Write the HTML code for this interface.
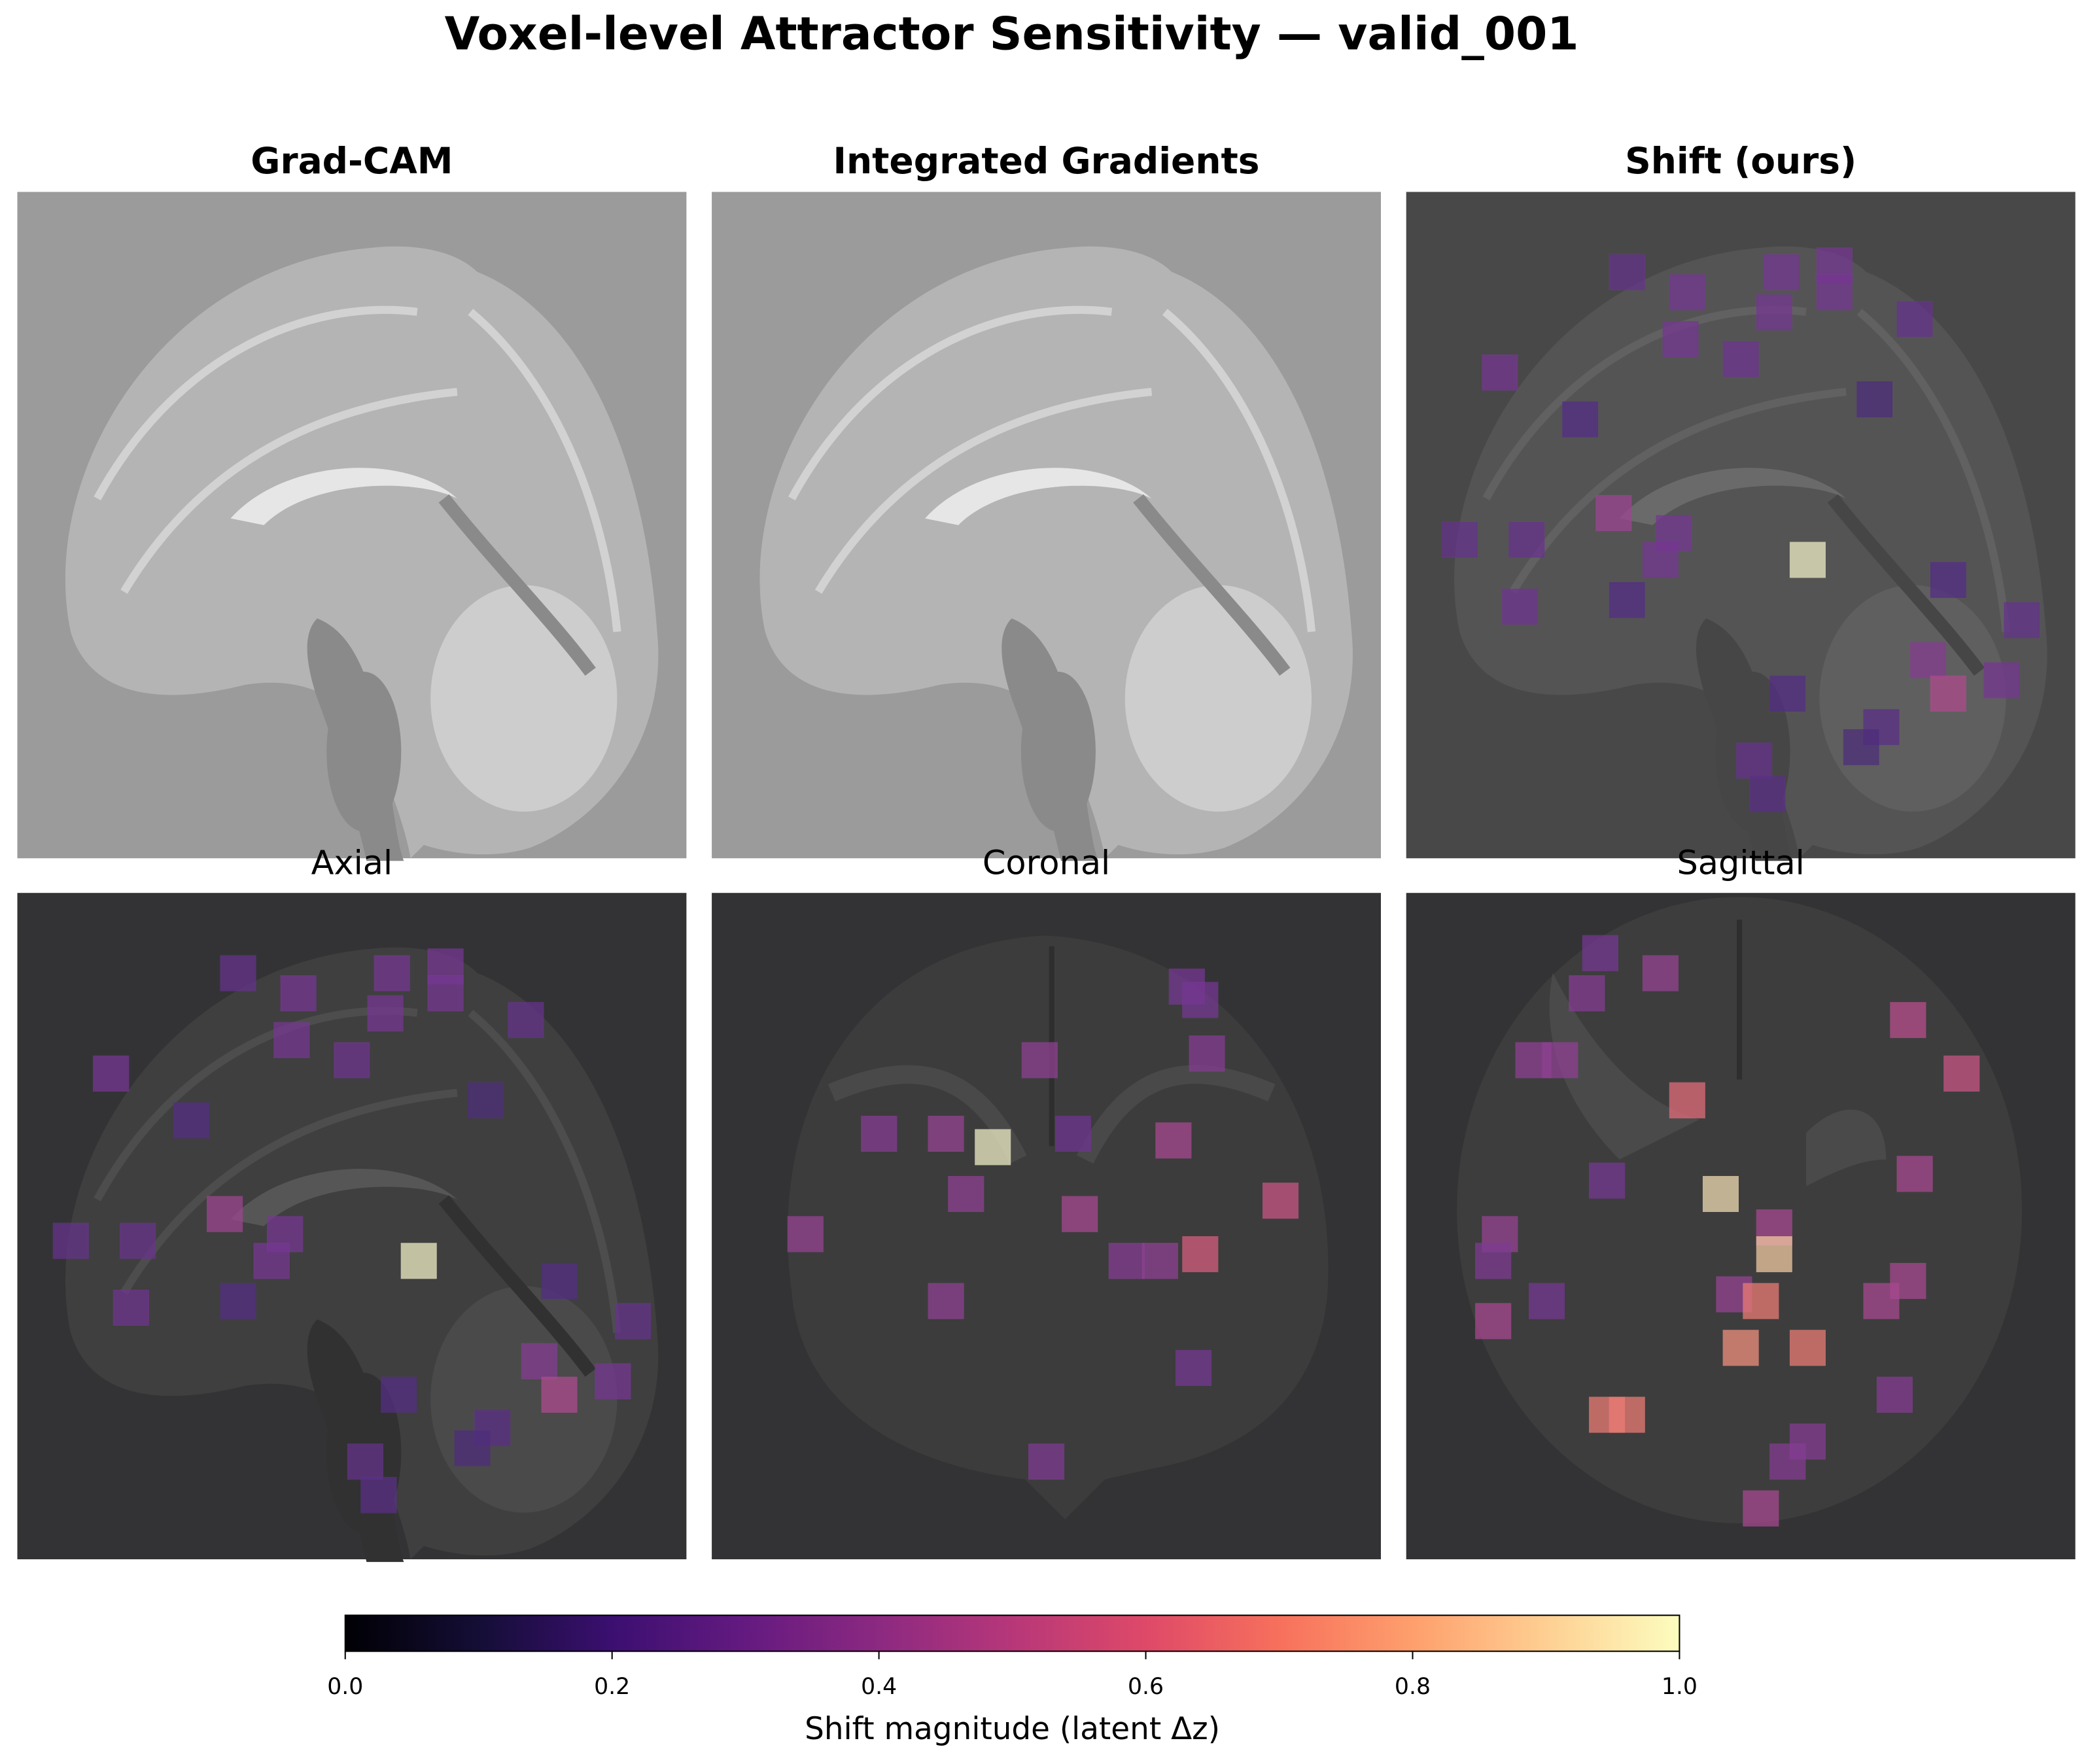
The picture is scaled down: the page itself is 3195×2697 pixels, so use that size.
<!DOCTYPE html>
<html><head><meta charset="utf-8"><style>
html,body{margin:0;padding:0;background:#fff;}
svg{display:block;}
text{font-family:"DejaVu Sans","Liberation Sans",sans-serif;}
</style></head><body>
<svg id="chart" width="3195" height="2697" viewBox="0 0 1568 1323.6" preserveAspectRatio="none" xmlns="http://www.w3.org/2000/svg">
<defs>
<linearGradient id="magma" x1="0" x2="1" y1="0" y2="0">
<stop offset="0" stop-color="#000004"/><stop offset="0.1" stop-color="#140e36"/><stop offset="0.2" stop-color="#3b0f70"/><stop offset="0.3" stop-color="#641a80"/><stop offset="0.4" stop-color="#8c2981"/><stop offset="0.5" stop-color="#b73779"/><stop offset="0.6" stop-color="#de4968"/><stop offset="0.7" stop-color="#f7705c"/><stop offset="0.8" stop-color="#fe9f6d"/><stop offset="0.9" stop-color="#fecf92"/><stop offset="1" stop-color="#fcfdbf"/>
</linearGradient>
</defs>
<text x="759" y="37" font-size="34" font-weight="bold" text-anchor="middle">Voxel-level Attractor Sensitivity — valid_001</text>
<g id="panels"></g>
<g>
<rect x="259" y="1212" width="1001" height="27" fill="url(#magma)" stroke="#000" stroke-width="1"/>
<g id="cbticks"></g>
<text x="759.5" y="1305" font-size="23" text-anchor="middle">Shift magnitude (latent Δz)</text>
</g>
</svg>
<script>
// colorbar ticks
const cbTicks = [0.0, 0.2, 0.4, 0.6, 0.8, 1.0];
const cbTickLabels = ["0.0","0.2","0.4","0.6","0.8","1.0"];
// squares: voxel coords (0-100 image units), value 0..1
const shiftX = [33,42,41,56,64,64,55,50,76,14,26,70,31,40,38,8,18,60,33,17,81,92,78,81,89,57,71,68,52,54];
const shiftY = [12,15,22,12,11,15,18,25,19,27,34,31,48,51,55,52,52,55,61,62,58,64,70,75,73,75,80,83,85,90];
const shiftV = [0.25,0.3,0.3,0.3,0.3,0.3,0.3,0.28,0.25,0.3,0.2,0.18,0.42,0.3,0.3,0.25,0.26,1.0,0.2,0.28,0.2,0.25,0.35,0.47,0.3,0.2,0.22,0.18,0.25,0.22];
const corX = [71,73,74,49,25,35,42,54,69,38,55,14,85,62,67,73,35,72,50];
const corY = [14,16,24,25,36,36,38,36,37,45,48,51,46,55,55,54,61,71,85];
const corV = [0.3,0.3,0.35,0.38,0.35,0.4,1.0,0.28,0.45,0.38,0.45,0.4,0.55,0.35,0.38,0.6,0.38,0.3,0.33];
const sagX = [29,27,38,19,23,75,83,42,30,47,76,14,55,13,55,21,49,53,75,71,13,50,60,73,30,33,60,57,53];
const sagY = [9,15,12,25,25,19,27,31,43,45,42,51,50,55,54,61,60,61,58,61,64,68,68,75,78,78,82,85,92];
const sagV = [0.3,0.35,0.4,0.38,0.38,0.5,0.55,0.65,0.3,0.95,0.45,0.4,0.45,0.33,0.9,0.3,0.4,0.7,0.45,0.45,0.45,0.75,0.7,0.35,0.7,0.7,0.35,0.35,0.45];

const NS="http://www.w3.org/2000/svg";
function mk(tag, attrs, parent){const e=document.createElementNS(NS,tag);for(const k in attrs)e.setAttribute(k,attrs[k]);if(parent)parent.appendChild(e);return e;}
const stops=[[0,[0,0,4]],[0.1,[20,14,54]],[0.2,[59,15,112]],[0.3,[100,26,128]],[0.4,[140,41,129]],[0.5,[183,55,121]],[0.6,[222,73,104]],[0.7,[247,112,92]],[0.8,[254,159,109]],[0.9,[254,207,146]],[1,[252,253,191]]];
function magma(v){v=Math.max(0,Math.min(1,v));for(let i=1;i<stops.length;i++){if(v<=stops[i][0]){const a=stops[i-1],b=stops[i];const t=(v-a[0])/(b[0]-a[0]);const c=a[1].map((x,j)=>Math.round(x+(b[1][j]-x)*t));return `rgb(${c})`;}}return "rgb(252,253,191)";}

const P=502;
const cols=[13,534,1055], rows=[144,670];
const sagPath="M40,330 C15,210 110,55 265,42 C300,38 330,45 345,60 C420,90 470,190 480,330 C488,410 440,470 385,492 C360,500 330,498 305,490 L295,500 C290,470 270,420 255,395 C230,370 200,365 170,370 C110,385 55,380 40,330 Z";
const stemPath="M225,320 C250,330 265,360 275,420 C282,460 285,490 290,502 L262,502 C255,470 240,420 225,380 C215,350 215,330 225,320 Z";
const corPath="M60,300 C40,150 120,38 250,32 C380,38 470,150 462,300 C455,380 400,420 330,432 L295,440 L265,470 L235,440 C150,430 68,390 60,300 Z";

function brain(g, kind, fill, bright, dark){
  if(kind==="sag"){
    mk("path",{d:sagPath,fill:fill},g);
    mk("path",{d:stemPath,fill:dark},g);
    mk("ellipse",{cx:260,cy:420,rx:28,ry:60,fill:dark},g);
    mk("ellipse",{cx:380,cy:380,rx:70,ry:85,fill:bright,opacity:0.5},g);
    mk("path",{d:"M160,245 C200,200 290,195 330,230 C300,215 220,215 185,250 Z",fill:bright},g);
    mk("path",{d:"M60,230 C120,120 220,80 300,90 M80,300 C140,200 230,160 330,150 M340,90 C400,140 440,230 450,330",fill:"none",stroke:bright,"stroke-width":6,opacity:0.6},g);
    mk("path",{d:"M320,230 C360,280 400,320 430,360",fill:"none",stroke:dark,"stroke-width":10},g);
  } else if(kind==="cor"){
    mk("path",{d:corPath,fill:fill},g);
    mk("path",{d:"M255,40 L255,190",stroke:dark,"stroke-width":4},g);
    mk("path",{d:"M90,150 C160,120 200,140 230,200 M420,150 C350,120 310,140 280,200",fill:"none",stroke:bright,"stroke-width":14,opacity:0.5},g);
  } else {
    mk("ellipse",{cx:250,cy:238,rx:212,ry:235,fill:fill},g);
    mk("path",{d:"M250,20 L250,140",stroke:dark,"stroke-width":4},g);
    mk("path",{d:"M110,60 C140,120 180,160 220,170 L160,200 C120,160 100,110 110,60 Z",fill:bright,opacity:0.5},g);
    mk("path",{d:"M300,180 C330,150 360,160 360,200 C340,200 320,210 300,220 Z",fill:bright,opacity:0.5},g);
  }
}

const panels=[
 {name:"grad-cam-panel",title:"Grad-CAM",bold:true,kind:"sag",bg:"#9b9b9b",fill:"#b4b4b4",bright:"#e6e6e6",dark:"#8a8a8a",xs:null},
 {name:"integrated-gradients-panel",title:"Integrated Gradients",bold:true,kind:"sag",bg:"#9b9b9b",fill:"#b4b4b4",bright:"#e6e6e6",dark:"#8a8a8a",xs:null},
 {name:"shift-ours-panel",title:"Shift (ours)",bold:true,kind:"sag",bg:"#484848",fill:"#545454",bright:"#6a6a6a",dark:"#464646",xs:shiftX,ys:shiftY,vs:shiftV},
 {name:"axial-panel",title:"Axial",bold:false,kind:"sag",bg:"#333335",fill:"#3f3f3f",bright:"#565656",dark:"#313131",xs:shiftX,ys:shiftY,vs:shiftV},
 {name:"coronal-panel",title:"Coronal",bold:false,kind:"cor",bg:"#333335",fill:"#3c3c3c",bright:"#555",dark:"#2e2e2e",xs:corX,ys:corY,vs:corV},
 {name:"sagittal-panel",title:"Sagittal",bold:false,kind:"ax",bg:"#333335",fill:"#3d3d3d",bright:"#585858",dark:"#2e2e2e",xs:sagX,ys:sagY,vs:sagV}
];
const root=document.getElementById("panels");
panels.forEach((p,i)=>{
  const x0=cols[i%3], y0=rows[Math.floor(i/3)];
  const g=mk("g",{transform:`translate(${x0},${y0})`},root);
  
  
  mk("rect",{x:0,y:0,width:P,height:P-2,fill:p.bg},g);
  const b=mk("g",{},g);
  brain(b,p.kind,p.fill,p.bright,p.dark);
  if(p.xs){
    const sz=27;
    p.xs.forEach((vx,j)=>{
      const sx=vx/100*P-sz/2, sy=p.ys[j]/100*P-sz/2;
      mk("rect",{x:sx,y:sy,width:sz,height:sz,fill:"#c0b0e0",opacity:0.35},g);
      const r=mk("rect",{x:sx,y:sy,width:sz,height:sz,fill:magma(p.vs[j]),opacity:0.6},g);
      
      
    });
  }
  const t=mk("text",{x:P/2,y:-14,"font-size":p.bold?27:25,"font-weight":p.bold?"bold":"normal","text-anchor":"middle"},g);
  
  
  t.textContent=p.title;
});
const tg=document.getElementById("cbticks");
cbTicks.forEach((v,i)=>{
  const x=259+v*1001;
  mk("line",{x1:x,x2:x,y1:1239,y2:1245,stroke:"#000","stroke-width":1},tg);
  const t=mk("text",{x:x,y:1271,"font-size":17,"text-anchor":"middle"},tg);
  
  
  t.textContent=cbTickLabels[i];
});
</script>
</body></html>
